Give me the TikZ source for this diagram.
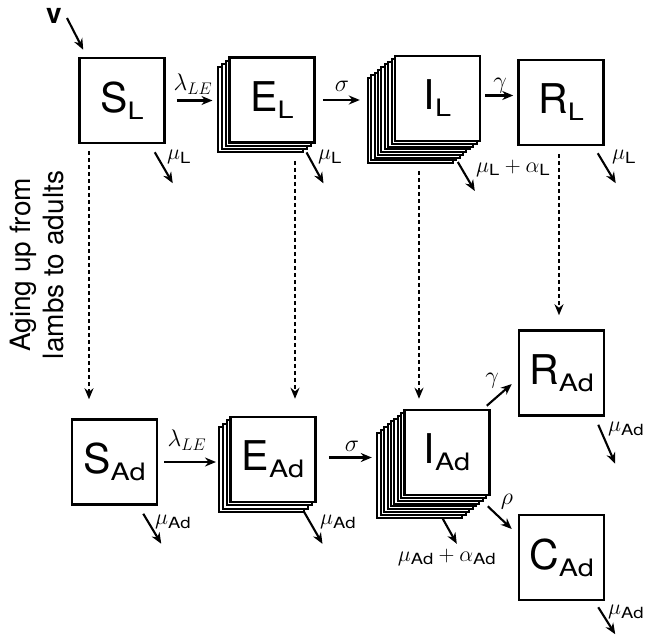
\documentclass[tikz,border=0pt]{standalone}
\usepackage{fix-cm}
\usepackage{fontspec}
\setmainfont{TeX Gyre Heros}
\newfontfamily\subfont[FakeStretch=1.2]{TeX Gyre Heros}
\usepackage{amsmath}
\usetikzlibrary{arrows.meta}
\newcommand{\cmpname}[2]{#1\raisebox{-7pt}{\subfont\fontsize{24}{24}\selectfont #2}}
\newcommand{\sx}[1]{\text{\subfont #1}}
\tikzset{
	comp/.style={draw,line width=2.5pt,fill=white,minimum size=85pt,inner sep=0pt,font=\fontsize{41}{41}\selectfont},
	layer/.style={draw,line width=2pt,fill=white,minimum size=85pt,inner sep=0pt},
	flow/.style={-{Stealth[length=11pt,width=9pt]},line width=2.1pt},
	aging/.style={flow,dash pattern=on 4pt off 3pt},
	rate/.style={font=\fontsize{24}{24}\selectfont,inner sep=0pt},
	death/.style={font=\fontsize{22}{22}\selectfont,inner sep=0pt}
}

\begin{document}
\begin{tikzpicture}[x=1pt,y=-1pt]
			\useasboundingbox (0,0) rectangle (645,635);
			\node[comp] (SL) at (122,100.5) {\cmpname{S}{L}};
			\foreach \i in {3,2,1}
				\node[layer] (EL\i) at ({272-4*\i},{100+3.3*\i}) {};
			\node[comp] (EL) at (272,100) {\cmpname{E}{L}};
			\foreach \i in {8,...,1}
				\node[layer] (IL\i) at ({437.5-3.4*\i},{98.5+2.75*\i}) {};
			\node[comp] (IL) at (437.5,98.5) {\cmpname{I}{L}};
			\node[comp] (RL) at (561,102.5) {\cmpname{R}{L}};
			\node[comp] (SAd) at (114.5,462) {\cmpname{S}{Ad}};
			\foreach \i in {3,2,1}
				\node[layer] (EAd\i) at ({273-4*\i},{459.5+3.3*\i}) {};
			\node[comp] (EAd) at (273,459.5) {\cmpname{E}{Ad}};
			\foreach \i in {8,...,1}
				\node[layer] (IAd\i) at ({447-3.4*\i},{452.5+2.85*\i}) {};
			\node[comp] (IAd) at (447,452.5) {\cmpname{I}{Ad}};
			\node[comp] (RAd) at (561.5,373) {\cmpname{R}{Ad}};
			\node[comp] (CAd) at (561.5,557.5) {\cmpname{C}{Ad}};
			\node[font=\fontsize{28}{28}\selectfont\bfseries,inner sep=0pt] (v) at (54,16) {v};
			\node[font=\fontsize{28}{33}\selectfont,align=center,rotate=90] (aging) at (37,265) {Aging up from\\lambs to adults};
			\draw[flow] ([shift={(5,2)}]v.east) -- ([shift={(5,-7)}]SL.north west);
			\draw[flow,shorten <=11pt,shorten >=4pt] (SL.east) -- (SL.east -| EL3.west);
			\draw[flow,shorten <=7pt,shorten >=7pt] (EL.east) -- (EL.east -| IL8.west);
			\draw[flow,shorten <=4pt,shorten >=4pt] ([yshift=3]IL.east) -- ([yshift=3]IL.east -| RL.west);
			\draw[flow,shorten <=6pt,shorten >=1.5pt] (SAd.east) -- (SAd.east -| EAd3.west);
			\draw[flow,shorten <=12pt,shorten >=4.5pt] ([yshift=2]EAd.east) -- ([yshift=2]EAd.east -| IAd8.west);
			\draw[flow] ([shift={(-4,-3)}]IAd.north east) -- ([shift={(-6,11)}]RAd.west);
			\draw[flow] ([shift={(-3,10)}]IAd.south east) -- ([shift={(-6,-28.5)}]CAd.west);
			\node[rate] (lamL) at (193,84) {$\lambda_{LE}$};
			\node[rate] (sigL) at (342,86) {$\sigma$};
			\node[rate] (gamL) at (500,86) {$\gamma$};
			\node[rate] (lamAd) at (187,440) {$\lambda_{LE}$};
			\node[rate] (sigAd) at (352,446) {$\sigma$};
			\node[rate] (gamAd) at (492,381) {$\gamma$};
			\node[rate] (rhoAd) at (507,502) {$\rho$};
			\draw[aging,shorten <=7pt,shorten >=19pt] ([xshift=-33]SL.south) -- ([xshift=-33]SL.south |- SAd.north);
			\draw[aging,shorten <=17pt,shorten >=17pt] ([xshift=23]EL.south) -- ([xshift=23]EL.south |- EAd.north);
			\draw[aging,shorten <=29pt,shorten >=10pt] ([xshift=-18.5]IL.south) -- ([xshift=-18.5]IL.south |- IAd.north);
			\draw[aging,shorten <=8pt,shorten >=14pt] ([xshift=-2]RL.south) -- ([xshift=-2]RL.south |- RAd.north);
			\draw[flow] ([shift={(-11,8)}]SL.south east) -- ++(18,31);
			\draw[flow] ([shift={(3,-1)}]EL3.south east) -- ++(17,31);
			\draw[flow] ([shift={(4,-2)}]IL8.south east) -- ++(17,29);
			\draw[flow] ([shift={(-7,7)}]RL.south east) -- ++(18,30);
			\draw[flow] ([shift={(-15,8)}]SAd.south east) -- ++(18,30);
			\draw[flow] ([shift={(-1,-2)}]EAd3.south east) -- ++(19,33);
			\draw[flow] ([shift={(23,0)}]IAd8.south) -- ++(14,25);
			\draw[flow] ([shift={(-7,8)}]RAd.south east) -- ++(17,39);
			\draw[flow] ([shift={(-7,6)}]CAd.south east) -- ++(17,27);
			\node[death,anchor=west] (muSL) at (167,157) {$\mu_{\sx{L}}$};
			\node[death,anchor=west] (muEL) at (318,157) {$\mu_{\sx{L}}$};
			\node[death,anchor=west] (muIL) at (476,168) {$\mu_{\sx{L}}+\alpha_{\sx{L}}$};
			\node[death,anchor=west] (muRL) at (612,157) {$\mu_{\sx{L}}$};
			\node[death,anchor=west] (muSAd) at (155,522) {$\mu_{\sx{Ad}}$};
			\node[death,anchor=west] (muEAd) at (320,522) {$\mu_{\sx{Ad}}$};
			\node[death] (muIAd) at (447,557) {$\mu_{\sx{Ad}}+\alpha_{\sx{Ad}}$};
			\node[death,anchor=west] (muRAd) at (608,429) {$\mu_{\sx{Ad}}$};
			\node[death,anchor=west] (muCAd) at (608,612) {$\mu_{\sx{Ad}}$};
		\end{tikzpicture}
\end{document}
